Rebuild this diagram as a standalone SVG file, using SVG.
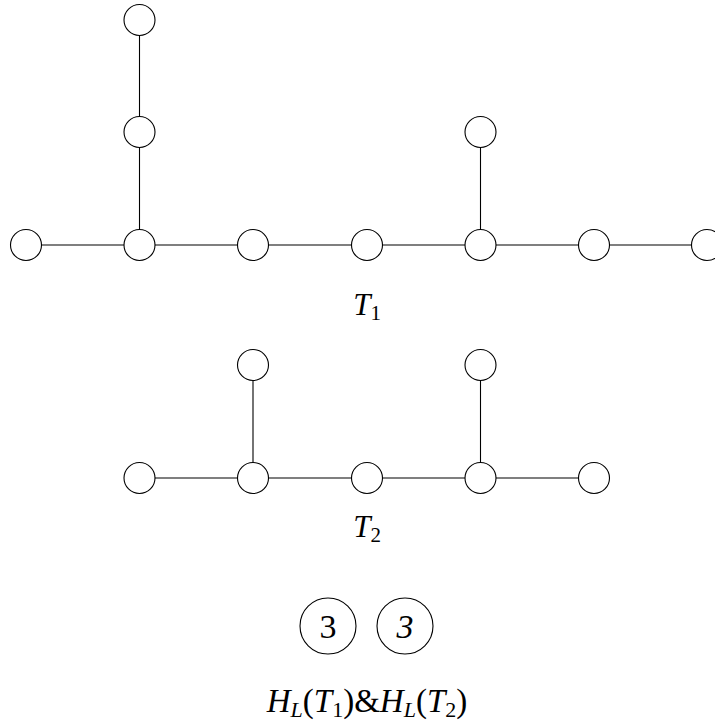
<svg xmlns="http://www.w3.org/2000/svg" width="715" height="725" viewBox="0 0 715 725">
<style>
.n{fill:#fff;stroke:#000;stroke-width:1.1}
.e{stroke:#000;stroke-width:1.1;fill:none}
.t{font-family:"Liberation Serif","DejaVu Serif",serif;font-size:31px;fill:#000}
.i{font-style:italic}
.s{font-size:21px}
.d{font-size:34px}
.h{font-size:33px}
.hs{font-size:22px}
</style>
<rect width="715" height="725" fill="#fff"/>
<g id="edges">
<line class="e" x1="26" y1="245" x2="707" y2="245"/>
<line class="e" x1="139.5" y1="20" x2="139.5" y2="245"/>
<line class="e" x1="480.5" y1="132" x2="480.5" y2="245"/>
<line class="e" x1="139.5" y1="478" x2="594" y2="478"/>
<line class="e" x1="253" y1="365" x2="253" y2="478"/>
<line class="e" x1="480.5" y1="365" x2="480.5" y2="478"/>
</g>
<g id="t1">
<g id="a1"><circle class="n" cx="26" cy="245" r="15.5"/></g>
<g id="a2"><circle class="n" cx="139.5" cy="245" r="15.5"/></g>
<g id="a3"><circle class="n" cx="253" cy="245" r="15.5"/></g>
<g id="a4"><circle class="n" cx="367" cy="245" r="15.5"/></g>
<g id="a5"><circle class="n" cx="480.5" cy="245" r="15.5"/></g>
<g id="a6"><circle class="n" cx="594" cy="245" r="15.5"/></g>
<g id="a7"><circle class="n" cx="707" cy="245" r="15.5"/></g>
<g id="a8"><circle class="n" cx="139.5" cy="132" r="15.5"/></g>
<g id="a9"><circle class="n" cx="139.5" cy="20" r="15.5"/></g>
<g id="a10"><circle class="n" cx="480.5" cy="132" r="15.5"/></g>
</g>
<g id="label1"><text class="t" x="367" y="315" text-anchor="middle"><tspan class="i">T</tspan><tspan class="s" dy="5">1</tspan></text></g>
<g id="t2">
<g id="b1"><circle class="n" cx="139.5" cy="478" r="15.5"/></g>
<g id="b2"><circle class="n" cx="253" cy="478" r="15.5"/></g>
<g id="b3"><circle class="n" cx="367" cy="478" r="15.5"/></g>
<g id="b4"><circle class="n" cx="480.5" cy="478" r="15.5"/></g>
<g id="b5"><circle class="n" cx="594" cy="478" r="15.5"/></g>
<g id="b6"><circle class="n" cx="253" cy="365" r="15.5"/></g>
<g id="b7"><circle class="n" cx="480.5" cy="365" r="15.5"/></g>
</g>
<g id="label2"><text class="t" x="367" y="537" text-anchor="middle"><tspan class="i">T</tspan><tspan class="s" dy="5">2</tspan></text></g>
<g id="h1"><circle class="n" cx="328" cy="626" r="28"/><text class="t d" x="328" y="638" text-anchor="middle">3</text></g>
<g id="h2"><circle class="n" cx="405" cy="626" r="28"/><text class="t d i" x="405" y="638" text-anchor="middle">3</text></g>
<g id="label3"><text class="t h" x="367" y="712" text-anchor="middle"><tspan class="i">H</tspan><tspan class="hs i" dy="5">L</tspan><tspan dy="-5">(</tspan><tspan class="i">T</tspan><tspan class="hs" dy="5">1</tspan><tspan dy="-5">)&amp;</tspan><tspan class="i">H</tspan><tspan class="hs i" dy="5">L</tspan><tspan dy="-5">(</tspan><tspan class="i">T</tspan><tspan class="hs" dy="5">2</tspan><tspan dy="-5">)</tspan></text></g>
</svg>
